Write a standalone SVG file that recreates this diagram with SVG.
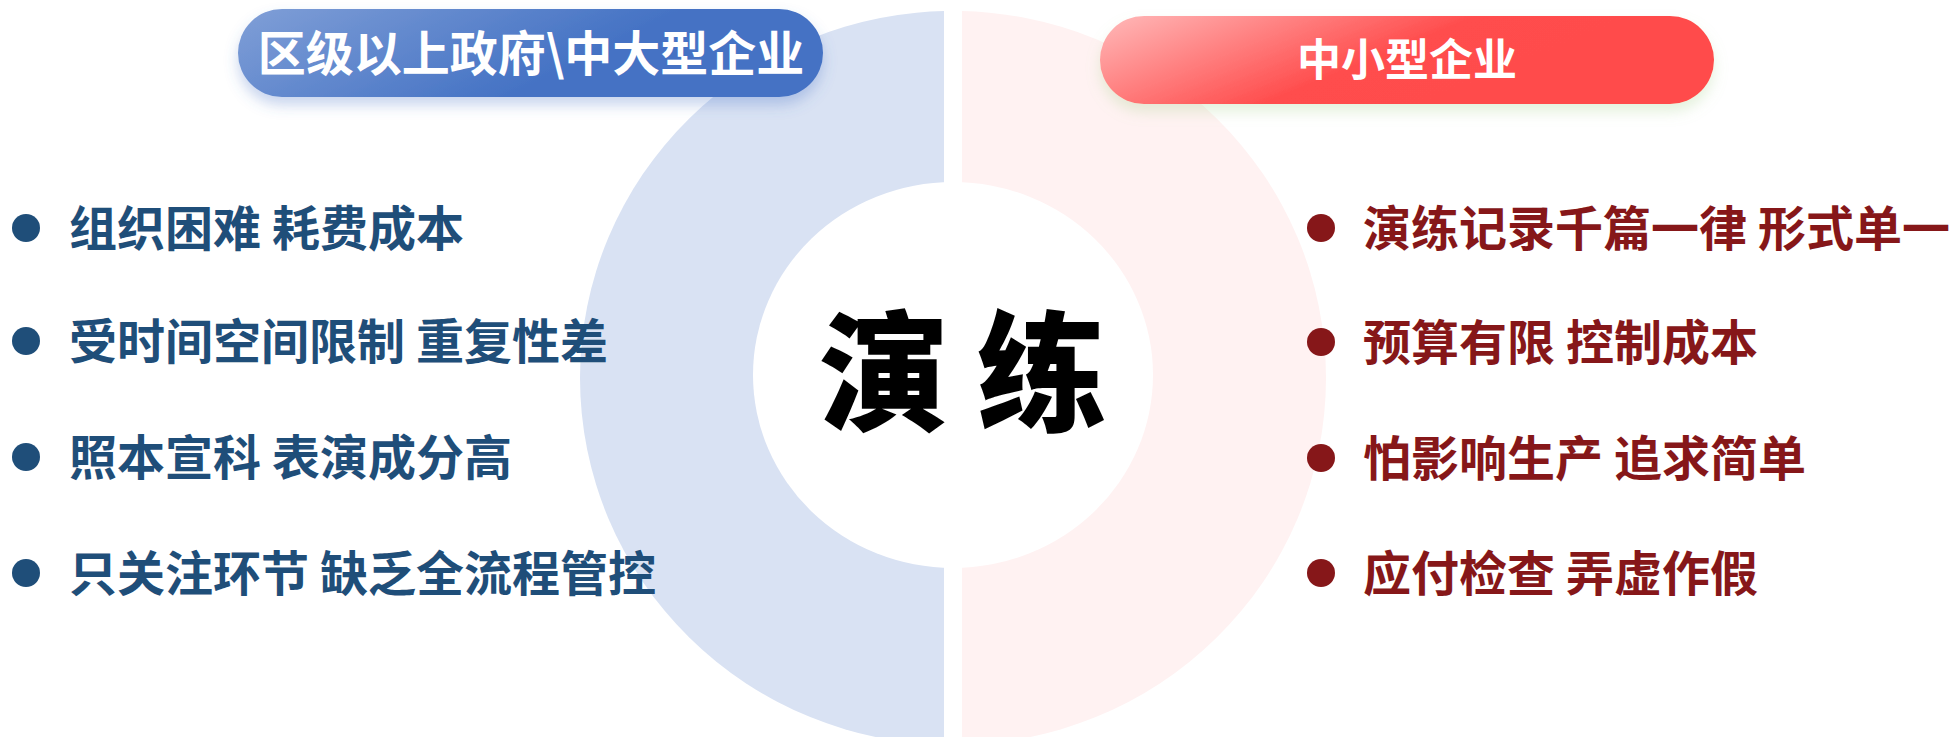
<svg xmlns="http://www.w3.org/2000/svg" width="1956" height="737" viewBox="0 0 1956 737">
  <defs>
    <linearGradient id="gBlue" x1="0" y1="0" x2="1" y2="0.3">
      <stop offset="0" stop-color="#809FD7"/>
      <stop offset="0.7" stop-color="#4472C4"/>
      <stop offset="1" stop-color="#4472C4"/>
    </linearGradient>
    <linearGradient id="gRed" x1="0" y1="0" x2="1" y2="0.35">
      <stop offset="0" stop-color="#FFBABA"/>
      <stop offset="0.55" stop-color="#FF4D4D"/>
      <stop offset="1" stop-color="#FF4B4B"/>
    </linearGradient>
    <filter id="shBlue" x="-10%" y="-30%" width="120%" height="180%">
      <feDropShadow dx="0" dy="8" stdDeviation="7" flood-color="#4472C4" flood-opacity="0.3"/>
    </filter>
    <filter id="shRed" x="-10%" y="-30%" width="120%" height="180%">
      <feDropShadow dx="0" dy="8" stdDeviation="7" flood-color="#A9D18E" flood-opacity="0.3"/>
    </filter>
    <clipPath id="cLeft"><rect x="0" y="0" width="944" height="737"/></clipPath>
    <clipPath id="cRight"><rect x="962" y="0" width="994" height="737"/></clipPath>
  </defs>
  <style>
    .pill-text { font-family: "Noto Sans CJK SC", "Noto Sans", sans-serif; font-weight: 700; fill: #FFFFFF; text-anchor: middle; }
    .item { font-family: "Noto Sans CJK SC", "Noto Sans", sans-serif; font-weight: 700; font-size: 48px; }
    .blue { fill: #1F4E79; }
    .red { fill: #861719; }
    .center-text { font-family: "Noto Sans CJK SC", sans-serif; font-weight: 900; font-size: 130px; fill: #000000; text-anchor: middle; }
  </style>
  <rect x="0" y="0" width="1956" height="737" fill="#FFFFFF"/>

  <g id="background">
    <ellipse cx="953" cy="378" rx="373" ry="367" fill="#D9E2F3" clip-path="url(#cLeft)"/>
    <ellipse cx="953" cy="378" rx="373" ry="367" fill="#FFF2F2" clip-path="url(#cRight)"/>
  </g>

  <g id="center">
    <ellipse cx="953" cy="375" rx="200" ry="193" fill="#FFFFFF"/>
    <text class="center-text" x="884" y="421">演</text>
    <text class="center-text" x="1042" y="421">练</text>
  </g>

  <g id="header-left">
    <rect x="238" y="9" width="585" height="88" rx="44" fill="url(#gBlue)" filter="url(#shBlue)"/>
    <text class="pill-text" x="531" y="71" font-size="48">区级以上政府\中大型企业</text>
  </g>

  <g id="header-right">
    <rect x="1100" y="16" width="614" height="88" rx="44" fill="url(#gRed)" filter="url(#shRed)"/>
    <text class="pill-text" x="1407" y="76" font-size="44">中小型企业</text>
  </g>

  <g id="left-items">
    <g id="left-1"><circle cx="26" cy="228" r="14" class="blue"/><text class="item blue" x="69" y="246">组织困难 耗费成本</text></g>
    <g id="left-2"><circle cx="26" cy="341" r="14" class="blue"/><text class="item blue" x="69" y="359">受时间空间限制 重复性差</text></g>
    <g id="left-3"><circle cx="26" cy="457" r="14" class="blue"/><text class="item blue" x="69" y="475">照本宣科 表演成分高</text></g>
    <g id="left-4"><circle cx="26" cy="573" r="14" class="blue"/><text class="item blue" x="69" y="591">只关注环节 缺乏全流程管控</text></g>
  </g>

  <g id="right-items">
    <g id="right-1"><circle cx="1321" cy="228" r="14" class="red"/><text class="item red" x="1363" y="246">演练记录千篇一律 形式单一</text></g>
    <g id="right-2"><circle cx="1321" cy="342" r="14" class="red"/><text class="item red" x="1363" y="360">预算有限 控制成本</text></g>
    <g id="right-3"><circle cx="1321" cy="458" r="14" class="red"/><text class="item red" x="1363" y="476">怕影响生产 追求简单</text></g>
    <g id="right-4"><circle cx="1321" cy="573" r="14" class="red"/><text class="item red" x="1363" y="591">应付检查 弄虚作假</text></g>
  </g>

  <g id="connectors"></g>
</svg>
